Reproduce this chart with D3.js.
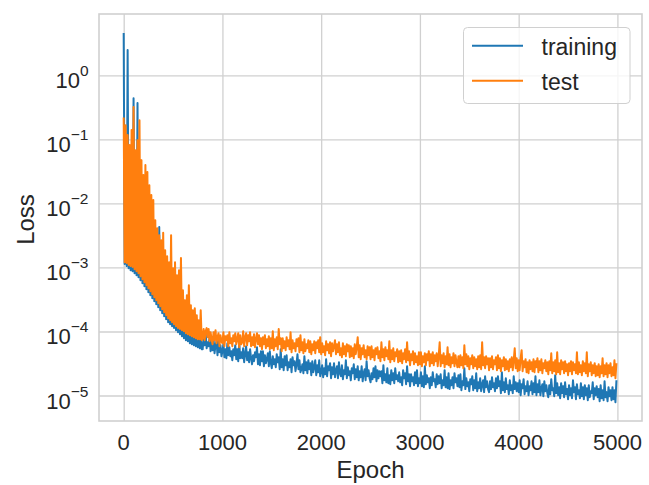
<!DOCTYPE html>
<html>
<head>
<meta charset="utf-8">
<script src="https://cdn.jsdelivr.net/npm/d3@7"></script>
<style>
  html, body { margin: 0; padding: 0; background: #ffffff; }
  svg { display: block; }
  text { font-family: "Liberation Sans", Arial, sans-serif; fill: #262626; }
</style>
</head>
<body>
<svg id="chart" width="649" height="485"></svg>
<script>
// Loss per epoch, sampled every 10 epochs (0 ... 4990), one line = 100 epochs
const epochs = d3.range(0, 5000, 10);

const trainingLoss = [
  4.6, 1.13e-3, 0.068, 1.05e-3, 2.5, 9.75e-4, 0.0475, 9.08e-4, 0.033, 8.76e-4,
  0.44, 8.15e-4, 0.023, 7.58e-4, 0.37, 7.05e-4, 0.0193, 6.33e-4, 0.0135, 5.69e-4,
  0.0113, 5.1e-4, 7.86e-3, 4.58e-4, 9.4e-3, 4.11e-4, 5.48e-3, 3.69e-4, 4.58e-3, 3.31e-4,
  3.83e-3, 2.97e-4, 3.2e-3, 2.67e-4, 2.23e-3, 2.40e-4, 4.3e-3, 2.15e-4, 1.86e-3, 1.93e-4,
  1.56e-3, 1.73e-4, 1.21e-3, 1.56e-4, 1.09e-3, 1.40e-4, 9.08e-4, 1.30e-4, 7.58e-4, 1.21e-4,
  6.33e-4, 1.13e-4, 5.29e-4, 1.05e-4, 4.42e-4, 9.75e-5, 3.69e-4, 9.08e-5, 3.08e-4, 8.45e-5,
  2.58e-4, 7.86e-5, 2.15e-4, 7.31e-5, 1.80e-4, 7.05e-5, 1.61e-4, 6.56e-5, 1.40e-4, 6.33e-5,
  1.25e-4, 6.11e-5, 1.13e-4, 5.89e-5, 1.01e-4, 5.68e-5, 9.08e-5, 5.48e-5, 8.45e-5, 5.29e-5,
  5.29e-5, 8.15e-5, 6.11e-5, 9.41e-5, 5.48e-5, 6.80e-5, 5.89e-5, 8.15e-5, 4.92e-5, 7.31e-5,
  5.10e-5, 7.86e-5, 4.58e-5, 6.11e-5, 7.05e-5, 4.26e-5, 7.86e-5, 4.75e-5, 6.11e-5, 4.11e-5,
  4.92e-5, 6.33e-5, 3.97e-5, 5.29e-5, 3.83e-5, 6.56e-5, 4.26e-5, 5.68e-5, 4.11e-5, 4.92e-5,
  3.56e-5, 5.29e-5, 4.26e-5, 6.11e-5, 3.69e-5, 5.29e-5, 3.44e-5, 6.80e-5, 3.83e-5, 4.75e-5,
  3.83e-5, 5.48e-5, 3.31e-5, 4.42e-5, 5.89e-5, 3.56e-5, 4.75e-5, 3.31e-5, 5.29e-5, 3.83e-5,
  3.08e-5, 4.26e-5, 3.44e-5, 4.75e-5, 3.97e-5, 5.68e-5, 3.08e-5, 4.42e-5, 2.97e-5, 4.92e-5,
  3.44e-5, 4.92e-5, 2.87e-5, 4.26e-5, 3.20e-5, 3.69e-5, 4.58e-5, 2.87e-5, 4.92e-5, 3.20e-5,
  2.67e-5, 4.11e-5, 3.08e-5, 3.69e-5, 2.77e-5, 4.42e-5, 3.31e-5, 3.97e-5, 2.58e-5, 5.29e-5,
  2.77e-5, 3.69e-5, 2.49e-5, 4.11e-5, 2.97e-5, 4.26e-5, 2.49e-5, 3.31e-5, 2.77e-5, 3.69e-5,
  2.31e-5, 3.97e-5, 2.97e-5, 3.44e-5, 2.40e-5, 3.08e-5, 4.42e-5, 2.58e-5, 3.56e-5, 2.31e-5,
  2.58e-5, 3.08e-5, 2.23e-5, 4.11e-5, 2.49e-5, 3.31e-5, 2.23e-5, 3.56e-5, 2.58e-5, 3.20e-5,
  2.08e-5, 3.44e-5, 2.31e-5, 2.77e-5, 3.56e-5, 2.08e-5, 2.97e-5, 2.31e-5, 3.56e-5, 2.00e-5,
  2.31e-5, 2.97e-5, 1.93e-5, 2.67e-5, 2.15e-5, 3.69e-5, 2.00e-5, 2.87e-5, 2.49e-5, 3.20e-5,
  1.86e-5, 2.77e-5, 2.15e-5, 3.20e-5, 1.93e-5, 2.49e-5, 2.87e-5, 1.86e-5, 3.31e-5, 2.23e-5,
  2.00e-5, 2.97e-5, 1.80e-5, 2.49e-5, 2.15e-5, 3.56e-5, 1.86e-5, 2.77e-5, 2.08e-5, 2.40e-5,
  1.73e-5, 2.67e-5, 2.23e-5, 3.08e-5, 1.80e-5, 2.58e-5, 1.93e-5, 2.87e-5, 1.73e-5, 2.40e-5,
  1.93e-5, 2.87e-5, 1.67e-5, 2.23e-5, 2.58e-5, 1.73e-5, 3.44e-5, 2.00e-5, 2.49e-5, 1.86e-5,
  1.61e-5, 2.23e-5, 1.80e-5, 2.67e-5, 1.93e-5, 2.87e-5, 1.67e-5, 2.49e-5, 1.86e-5, 2.40e-5,
  2.00e-5, 2.40e-5, 1.56e-5, 2.97e-5, 1.73e-5, 2.15e-5, 1.61e-5, 2.67e-5, 1.56e-5, 2.08e-5,
  1.50e-5, 2.49e-5, 1.73e-5, 2.23e-5, 1.56e-5, 2.67e-5, 1.80e-5, 2.08e-5, 1.67e-5, 2.31e-5,
  1.61e-5, 1.93e-5, 1.45e-5, 2.49e-5, 1.86e-5, 2.23e-5, 1.50e-5, 2.87e-5, 1.67e-5, 2.15e-5,
  1.40e-5, 2.15e-5, 1.67e-5, 1.93e-5, 1.45e-5, 2.31e-5, 1.56e-5, 2.49e-5, 1.40e-5, 1.86e-5,
  1.56e-5, 2.31e-5, 1.40e-5, 2.00e-5, 1.35e-5, 2.87e-5, 1.50e-5, 2.08e-5, 1.61e-5, 1.86e-5,
  1.30e-5, 1.93e-5, 1.45e-5, 2.31e-5, 1.67e-5, 1.80e-5, 1.35e-5, 2.15e-5, 1.50e-5, 2.00e-5,
  1.56e-5, 2.15e-5, 1.30e-5, 1.73e-5, 1.45e-5, 2.49e-5, 1.35e-5, 1.93e-5, 1.30e-5, 2.23e-5,
  1.26e-5, 1.73e-5, 1.45e-5, 1.93e-5, 1.30e-5, 2.23e-5, 1.61e-5, 1.86e-5, 1.40e-5, 2.08e-5,
  1.35e-5, 2.15e-5, 1.21e-5, 1.67e-5, 1.45e-5, 2.67e-5, 1.26e-5, 1.86e-5, 1.40e-5, 1.61e-5,
  1.17e-5, 1.80e-5, 1.50e-5, 2.00e-5, 1.21e-5, 1.73e-5, 1.30e-5, 2.23e-5, 1.17e-5, 1.61e-5,
  1.30e-5, 1.86e-5, 1.17e-5, 1.50e-5, 1.73e-5, 1.13e-5, 2.00e-5, 1.35e-5, 1.67e-5, 1.26e-5,
  1.13e-5, 1.67e-5, 1.26e-5, 1.93e-5, 1.35e-5, 1.56e-5, 1.17e-5, 1.86e-5, 1.30e-5, 2.00e-5,
  1.40e-5, 1.67e-5, 1.09e-5, 2.31e-5, 1.21e-5, 1.61e-5, 1.13e-5, 1.86e-5, 1.26e-5, 1.45e-5,
  1.05e-5, 1.73e-5, 1.21e-5, 1.45e-5, 1.09e-5, 2.00e-5, 1.26e-5, 1.61e-5, 1.17e-5, 1.56e-5,
  1.13e-5, 1.73e-5, 1.01e-5, 1.50e-5, 1.30e-5, 1.80e-5, 1.05e-5, 1.40e-5, 1.17e-5, 1.67e-5,
  1.01e-5, 1.40e-5, 1.21e-5, 1.67e-5, 1.05e-5, 1.56e-5, 1.13e-5, 2.00e-5, 1.01e-5, 1.50e-5,
  1.13e-5, 1.73e-5, 1.01e-5, 1.30e-5, 1.50e-5, 9.76e-6, 1.67e-5, 1.17e-5, 1.45e-5, 1.09e-5,
  9.42e-6, 1.45e-5, 1.05e-5, 1.80e-5, 1.21e-5, 1.30e-5, 9.76e-6, 2.08e-5, 1.09e-5, 1.56e-5,
  1.01e-5, 1.35e-5, 9.08e-6, 1.56e-5, 1.09e-5, 1.40e-5, 9.42e-6, 1.61e-5, 1.05e-5, 1.26e-5,
  8.76e-6, 1.45e-5, 1.01e-5, 1.30e-5, 9.08e-6, 1.73e-5, 1.13e-5, 1.35e-5, 8.76e-6, 1.50e-5,
  1.05e-5, 1.21e-5, 9.08e-6, 1.56e-5, 9.76e-6, 1.35e-5, 8.76e-6, 1.45e-5, 1.01e-5, 1.30e-5,
  8.45e-6, 1.45e-5, 9.42e-6, 1.17e-5, 1.09e-5, 1.61e-5, 8.76e-6, 1.30e-5, 1.01e-5, 1.40e-5,
  9.42e-6, 1.26e-5, 8.15e-6, 1.45e-5, 9.08e-6, 1.21e-5, 8.45e-6, 1.67e-5, 9.42e-6, 1.13e-5,
  8.15e-6, 1.35e-5, 9.76e-6, 1.21e-5, 8.45e-6, 1.35e-5, 8.76e-6, 1.21e-5, 7.86e-6, 1.73e-5
];

const testLoss = [
  0.22, 1.21e-3, 0.167, 1.17e-3, 0.117, 1.09e-3, 0.082, 1.05e-3, 0.14, 1.02e-3,
  0.32, 9.4e-4, 0.068, 8.75e-4, 0.0975, 8.15e-4, 0.20, 7.31e-4, 0.0475, 6.56e-4,
  0.0277, 5.89e-4, 0.0397, 5.29e-4, 0.031, 4.75e-4, 0.0193, 4.26e-4, 0.0135, 3.83e-4,
  0.0113, 3.44e-4, 5.48e-3, 3.08e-4, 4.11e-3, 2.77e-4, 3.2e-3, 2.49e-4, 2.67e-3, 2.23e-4,
  3.5e-3, 2.0e-4, 1.86e-3, 1.80e-4, 1.5e-3, 1.61e-4, 1.21e-3, 1.50e-4, 3.2e-3, 1.40e-4,
  9.75e-4, 1.30e-4, 1.21e-3, 1.21e-4, 7.58e-4, 1.13e-4, 9.08e-4, 1.09e-4, 1.4e-3, 1.05e-4,
  4.42e-4, 1.01e-4, 3.08e-4, 9.41e-5, 3.69e-4, 9.08e-5, 5.29e-4, 8.76e-5, 2.58e-4, 8.45e-5,
  2.15e-4, 8.15e-5, 2.3e-4, 7.86e-5, 1.80e-4, 7.58e-5, 1.50e-4, 7.58e-5, 2.15e-4, 7.31e-5,
  7.86e-5, 1.09e-4, 7.31e-5, 1.01e-4, 1.13e-4, 8.15e-5, 1.09e-4, 7.05e-5, 9.75e-5, 7.58e-5,
  6.33e-5, 9.75e-5, 7.31e-5, 1.05e-4, 6.56e-5, 8.15e-5, 9.41e-5, 5.89e-5, 8.76e-5, 7.05e-5,
  6.56e-5, 9.75e-5, 5.89e-5, 8.45e-5, 7.31e-5, 8.76e-5, 5.89e-5, 9.75e-5, 6.56e-5, 7.86e-5,
  5.89e-5, 8.76e-5, 7.05e-5, 9.41e-5, 6.33e-5, 7.58e-5, 9.41e-5, 5.68e-5, 8.76e-5, 6.33e-5,
  6.80e-5, 1.01e-4, 5.89e-5, 8.15e-5, 9.41e-5, 6.11e-5, 8.76e-5, 7.05e-5, 9.75e-5, 5.89e-5,
  8.15e-5, 6.11e-5, 9.08e-5, 5.68e-5, 7.58e-5, 9.41e-5, 6.33e-5, 8.76e-5, 5.89e-5, 7.86e-5,
  5.29e-5, 8.15e-5, 6.33e-5, 8.76e-5, 5.48e-5, 7.58e-5, 5.89e-5, 8.45e-5, 5.29e-5, 7.86e-5,
  5.48e-5, 1.01e-4, 5.10e-5, 7.58e-5, 5.89e-5, 8.15e-5, 5.29e-5, 1.09e-4, 6.33e-5, 7.86e-5,
  4.92e-5, 7.86e-5, 5.48e-5, 7.05e-5, 5.10e-5, 8.15e-5, 5.89e-5, 7.31e-5, 5.29e-5, 9.75e-5,
  4.75e-5, 7.31e-5, 5.48e-5, 6.56e-5, 4.92e-5, 7.58e-5, 5.89e-5, 7.86e-5, 4.75e-5, 8.76e-5,
  5.10e-5, 6.80e-5, 4.58e-5, 7.58e-5, 4.92e-5, 6.33e-5, 5.48e-5, 7.31e-5, 4.75e-5, 7.05e-5,
  4.42e-5, 6.33e-5, 5.10e-5, 7.05e-5, 4.58e-5, 6.80e-5, 5.48e-5, 7.31e-5, 4.75e-5, 8.15e-5,
  4.42e-5, 6.56e-5, 4.75e-5, 5.89e-5, 4.26e-5, 7.05e-5, 5.10e-5, 6.33e-5, 4.58e-5, 6.80e-5,
  4.11e-5, 6.56e-5, 4.92e-5, 5.89e-5, 7.31e-5, 4.42e-5, 6.33e-5, 4.75e-5, 6.80e-5, 4.26e-5,
  5.48e-5, 3.97e-5, 6.56e-5, 4.42e-5, 5.89e-5, 4.11e-5, 6.33e-5, 4.92e-5, 6.11e-5, 3.97e-5,
  5.89e-5, 4.11e-5, 5.48e-5, 3.83e-5, 6.33e-5, 4.42e-5, 5.68e-5, 8.15e-5, 3.97e-5, 6.11e-5,
  3.69e-5, 5.48e-5, 4.42e-5, 6.11e-5, 3.97e-5, 5.10e-5, 3.69e-5, 5.89e-5, 4.26e-5, 5.68e-5,
  3.69e-5, 5.89e-5, 3.97e-5, 5.10e-5, 3.56e-5, 5.48e-5, 4.42e-5, 5.68e-5, 3.83e-5, 4.92e-5,
  3.44e-5, 6.80e-5, 3.97e-5, 5.29e-5, 3.56e-5, 5.68e-5, 4.11e-5, 5.10e-5, 3.69e-5, 7.05e-5,
  3.31e-5, 5.10e-5, 3.69e-5, 5.48e-5, 3.44e-5, 4.75e-5, 4.11e-5, 5.29e-5, 3.31e-5, 4.92e-5,
  3.44e-5, 5.10e-5, 3.20e-5, 4.58e-5, 3.69e-5, 5.29e-5, 3.31e-5, 6.80e-5, 3.56e-5, 4.92e-5,
  2.97e-5, 4.42e-5, 3.56e-5, 4.92e-5, 3.08e-5, 4.58e-5, 3.31e-5, 4.11e-5, 2.97e-5, 4.75e-5,
  3.08e-5, 4.75e-5, 2.87e-5, 4.11e-5, 3.31e-5, 4.58e-5, 2.97e-5, 4.42e-5, 3.56e-5, 4.92e-5,
  2.87e-5, 4.42e-5, 3.20e-5, 4.75e-5, 2.97e-5, 4.26e-5, 3.44e-5, 4.58e-5, 2.87e-5, 4.11e-5,
  6.80e-5, 2.87e-5, 4.26e-5, 3.20e-5, 4.58e-5, 2.77e-5, 4.11e-5, 3.08e-5, 5.68e-5, 2.97e-5,
  4.42e-5, 2.77e-5, 3.97e-5, 3.20e-5, 4.58e-5, 2.87e-5, 4.26e-5, 3.31e-5, 2.77e-5, 4.11e-5,
  2.77e-5, 4.26e-5, 2.97e-5, 3.97e-5, 2.67e-5, 6.11e-5, 3.08e-5, 4.42e-5, 2.87e-5, 4.11e-5,
  2.58e-5, 3.83e-5, 3.08e-5, 4.26e-5, 2.67e-5, 3.97e-5, 2.87e-5, 3.69e-5, 2.58e-5, 4.11e-5,
  2.77e-5, 4.26e-5, 2.58e-5, 6.80e-5, 2.97e-5, 3.97e-5, 2.67e-5, 4.11e-5, 3.08e-5, 3.83e-5,
  2.49e-5, 3.83e-5, 2.77e-5, 4.11e-5, 2.58e-5, 3.56e-5, 3.08e-5, 3.97e-5, 2.49e-5, 4.26e-5,
  2.67e-5, 3.83e-5, 2.40e-5, 3.56e-5, 2.87e-5, 3.97e-5, 2.49e-5, 3.69e-5, 2.58e-5, 3.44e-5,
  2.40e-5, 3.69e-5, 2.77e-5, 3.97e-5, 2.49e-5, 3.56e-5, 5.48e-5, 2.67e-5, 3.83e-5, 2.40e-5,
  3.56e-5, 2.49e-5, 3.83e-5, 5.10e-5, 2.40e-5, 3.44e-5, 2.77e-5, 3.69e-5, 2.31e-5, 3.31e-5,
  2.23e-5, 3.56e-5, 2.58e-5, 3.31e-5, 2.40e-5, 3.69e-5, 2.31e-5, 3.44e-5, 2.77e-5, 3.83e-5,
  2.31e-5, 3.44e-5, 2.49e-5, 3.69e-5, 2.23e-5, 3.20e-5, 2.67e-5, 3.56e-5, 2.40e-5, 3.31e-5,
  2.15e-5, 3.44e-5, 2.49e-5, 4.58e-5, 2.23e-5, 3.31e-5, 2.40e-5, 3.56e-5, 2.15e-5, 4.75e-5,
  2.31e-5, 3.20e-5, 2.15e-5, 3.56e-5, 2.58e-5, 3.31e-5, 2.23e-5, 3.44e-5, 2.40e-5, 3.08e-5,
  2.08e-5, 3.20e-5, 2.40e-5, 3.44e-5, 2.15e-5, 3.31e-5, 2.49e-5, 3.08e-5, 2.23e-5, 4.75e-5,
  2.15e-5, 3.31e-5, 2.31e-5, 2.97e-5, 2.08e-5, 3.44e-5, 2.40e-5, 3.20e-5, 2.23e-5, 4.75e-5,
  2.00e-5, 3.08e-5, 2.40e-5, 3.31e-5, 2.08e-5, 2.97e-5, 2.23e-5, 3.20e-5, 2.00e-5, 2.87e-5,
  2.08e-5, 3.08e-5, 1.93e-5, 2.87e-5, 2.23e-5, 3.83e-5, 2.00e-5, 2.97e-5, 2.15e-5, 3.20e-5,
  1.93e-5, 2.97e-5, 2.23e-5, 3.20e-5, 2.00e-5, 2.77e-5, 2.08e-5, 3.56e-5, 1.86e-5, 3.20e-5
];

const seriesNames = ["training", "test"];
const seriesColors = ["#1f77b4", "#ff7f0e"];
const xTicks = [0, 1000, 2000, 3000, 4000, 5000];
const yTickExponents = [-5, -4, -3, -2, -1, 0];

const margin = { left: 99, right: 642, top: 14, bottom: 421 };
const svg = d3.select("#chart");

const x = d3.scaleLinear().domain([-250, 5249]).range([margin.left, margin.right]);
const y = d3.scaleLog().domain([4.0e-6, 9.1]).range([margin.bottom, margin.top]);

const gridColor = "#d0d0d0";

// grid lines
const xAxis = d3.axisBottom(x).tickValues(xTicks)
  .tickSize(-(margin.bottom - margin.top)).tickFormat("");
svg.append("g").attr("transform", `translate(0,${margin.bottom})`).call(xAxis)
  .call(g => g.select(".domain").remove())
  .call(g => g.selectAll(".tick line").attr("stroke", gridColor).attr("stroke-width", 1.3));

const yAxis = d3.axisLeft(y).tickValues(yTickExponents.map(e => Math.pow(10, e)))
  .tickSize(-(margin.right - margin.left)).tickFormat("");
svg.append("g").attr("transform", `translate(${margin.left},0)`).call(yAxis)
  .call(g => g.select(".domain").remove())
  .call(g => g.selectAll(".tick line").attr("stroke", gridColor).attr("stroke-width", 1.3));

// tick labels
svg.append("g").selectAll("text").data(xTicks).join("text")
  .attr("x", d => x(d)).attr("y", margin.bottom + 29)
  .attr("text-anchor", "middle").style("font-size", "22px")
  .text(d => d);

const yLab = svg.append("g").selectAll("text").data(yTickExponents).join("text")
  .attr("x", margin.left - 10.5).attr("y", d => y(Math.pow(10, d)) + 13)
  .attr("text-anchor", "end").style("font-size", "22px");
yLab.append("tspan").text("10");
yLab.append("tspan").attr("dy", -12).style("font-size", "15.5px")
  .text(d => (d < 0 ? "\u2212" + (-d) : String(d)));

// clip to the plotting area
svg.append("clipPath").attr("id", "plotClip").append("rect")
  .attr("x", margin.left).attr("y", margin.top)
  .attr("width", margin.right - margin.left).attr("height", margin.bottom - margin.top);

const line = d3.line().x(d => x(d[0])).y(d => y(d[1]));
const series = [trainingLoss, testLoss];
const plot = svg.append("g").attr("clip-path", "url(#plotClip)");
series.forEach((vals, k) => {
  plot.append("path")
    .datum(epochs.map((e, i) => [e, vals[i]]))
    .attr("d", line)
    .attr("fill", "none")
    .attr("stroke", seriesColors[k])
    .attr("stroke-width", 2)
    .attr("stroke-linejoin", "round");
});

// frame
svg.append("rect")
  .attr("x", margin.left).attr("y", margin.top)
  .attr("width", margin.right - margin.left).attr("height", margin.bottom - margin.top)
  .attr("fill", "none").attr("stroke", gridColor).attr("stroke-width", 1.6);

// axis titles
svg.append("text").attr("x", (margin.left + margin.right) / 2).attr("y", 477.5)
  .attr("text-anchor", "middle").style("font-size", "24px").text("Epoch");
svg.append("text").attr("transform", "translate(33.5,219.5) rotate(-90)")
  .attr("text-anchor", "middle").style("font-size", "24px").text("Loss");

// legend
const legend = svg.append("g");
legend.append("rect")
  .attr("x", 463.5).attr("y", 27.5).attr("width", 166.5).attr("height", 76)
  .attr("rx", 4).attr("fill", "#ffffff").attr("fill-opacity", 0.8)
  .attr("stroke", gridColor).attr("stroke-width", 1);
seriesNames.forEach((name, k) => {
  const cy = 45.7 + k * 35;
  legend.append("line").attr("x1", 472).attr("x2", 523).attr("y1", cy).attr("y2", cy)
    .attr("stroke", seriesColors[k]).attr("stroke-width", 2);
  legend.append("text").attr("x", 541.5).attr("y", cy + 9.3)
    .style("font-size", "23px").text(name);
});
</script>
</body>
</html>
